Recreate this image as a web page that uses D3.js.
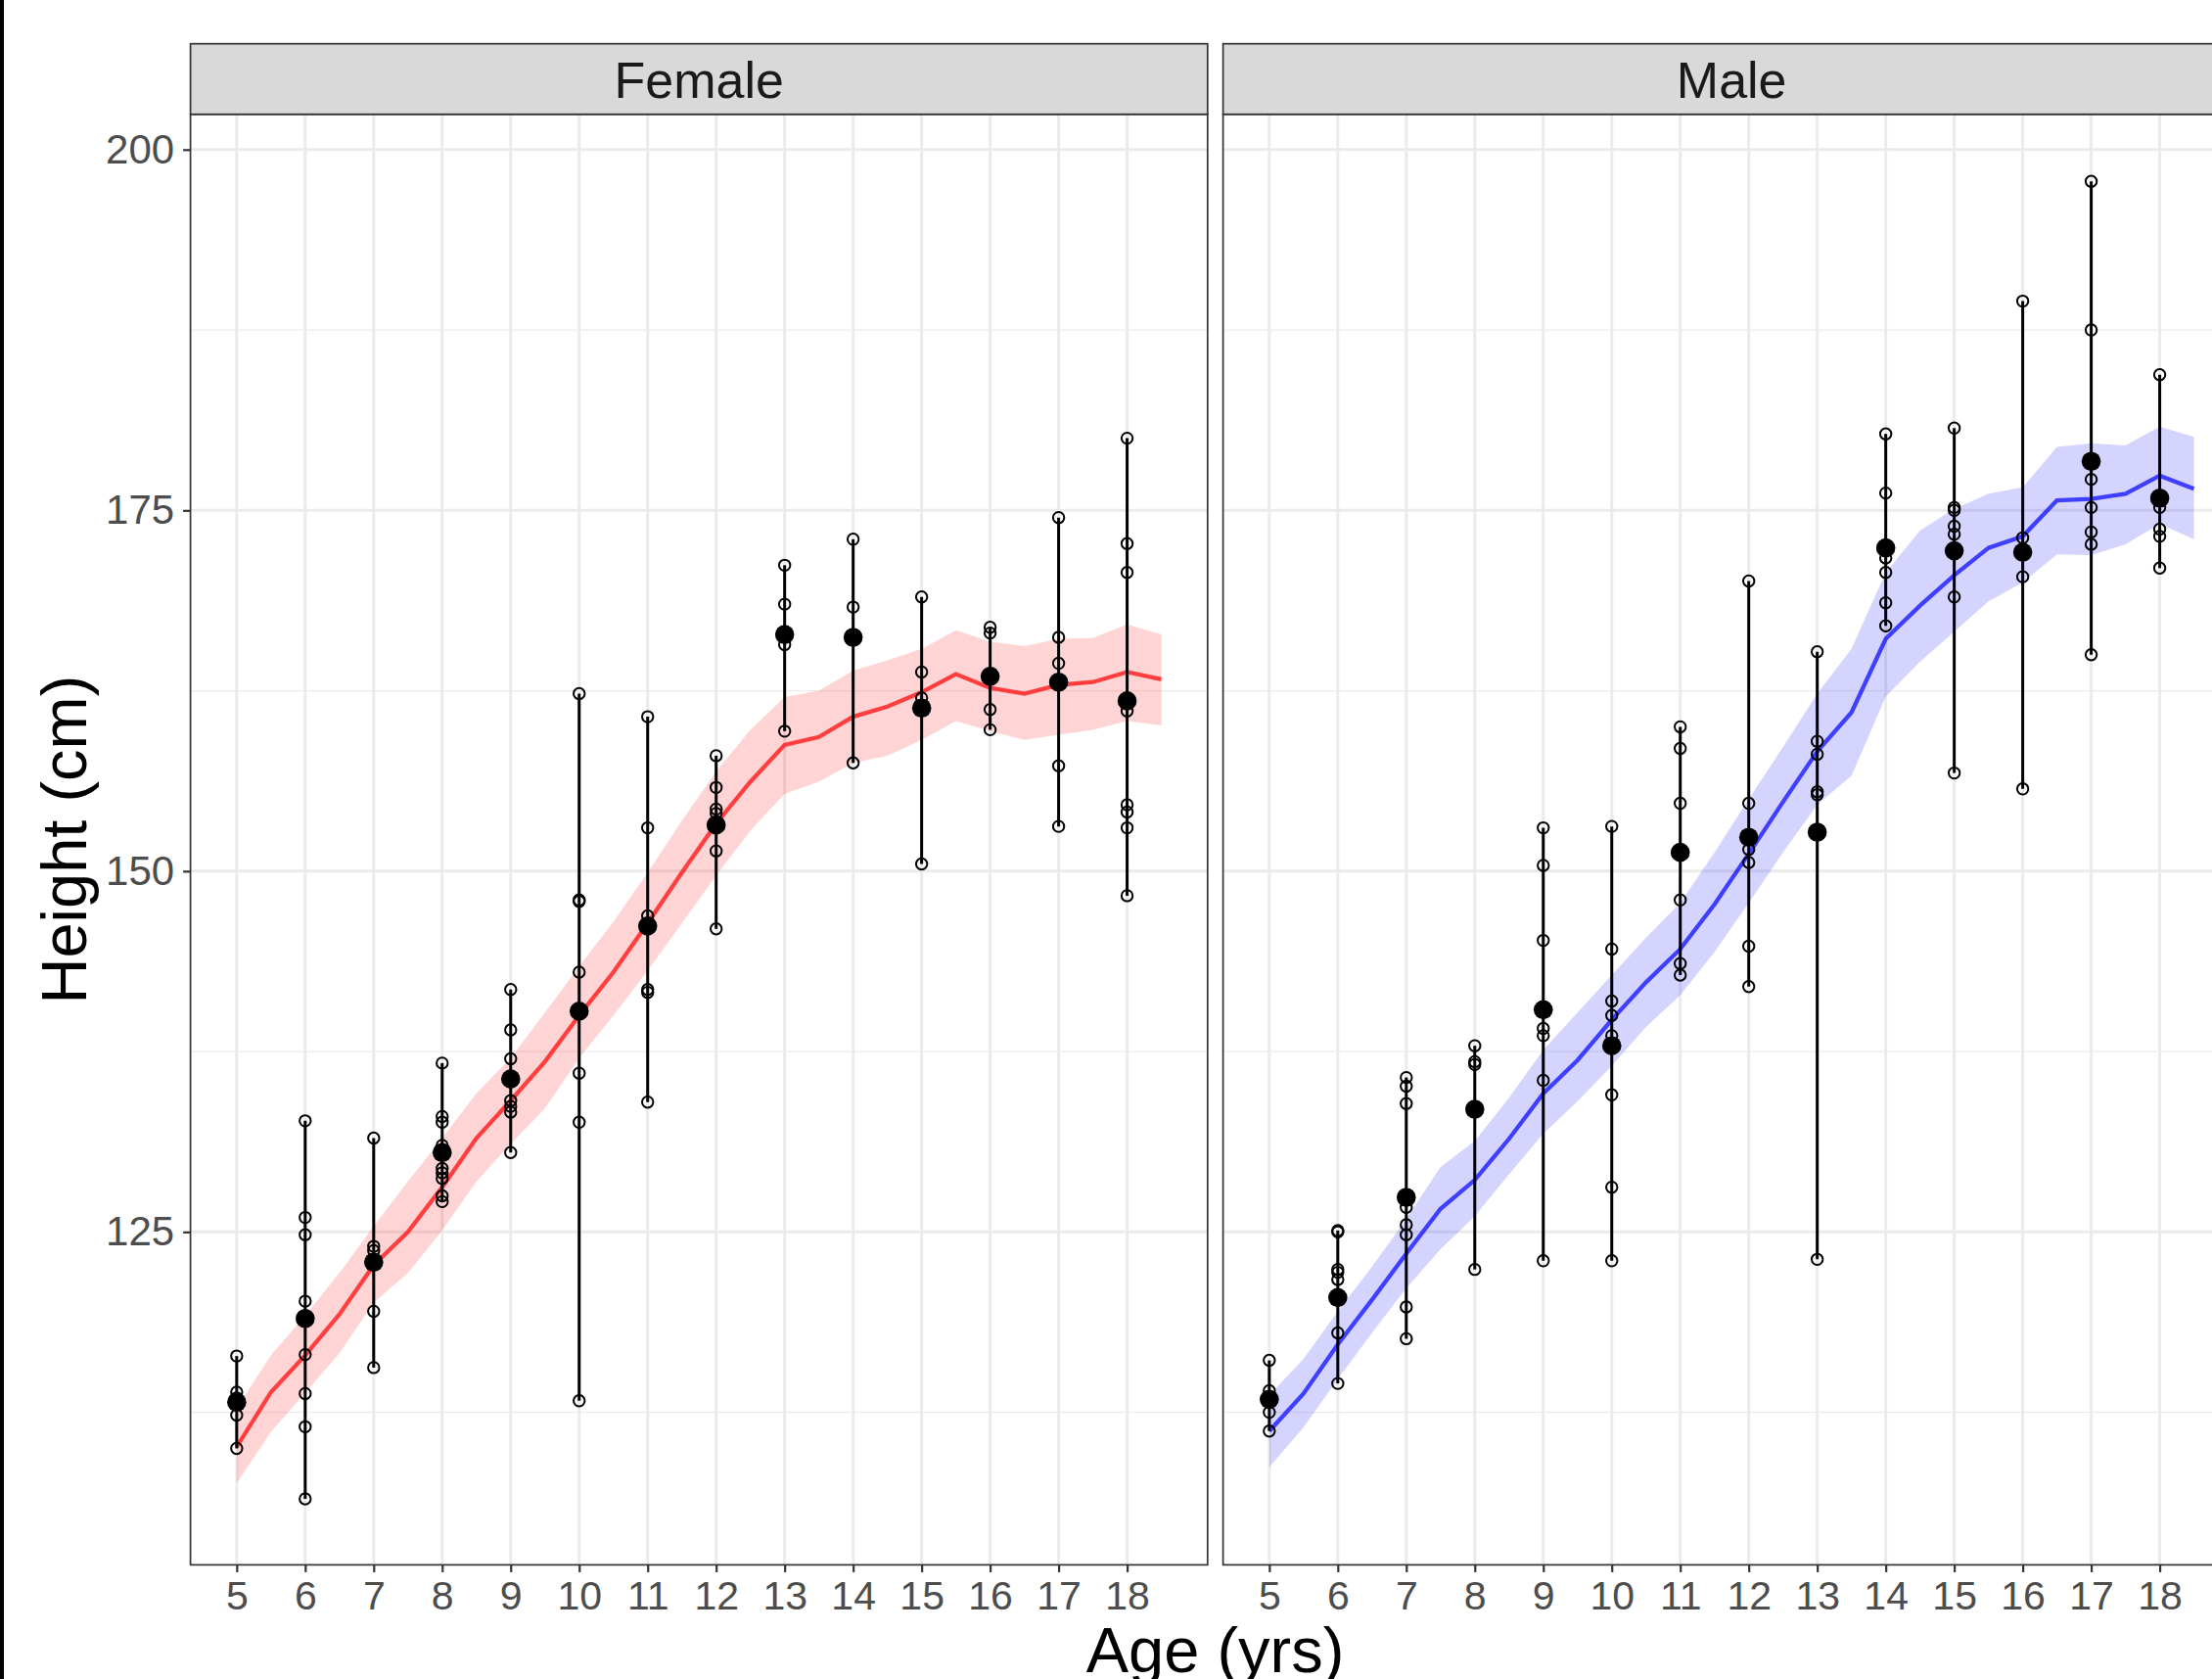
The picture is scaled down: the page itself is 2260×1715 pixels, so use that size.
<!DOCTYPE html>
<html>
<head>
<meta charset="utf-8">
<script src="https://cdn.jsdelivr.net/npm/d3@7"></script>
<style>
  body { margin: 0; background: #fff; }
  svg { display: block; font-family: "Liberation Sans", Arial, sans-serif; }
</style>
</head>
<body>
<script>

// ages with observations
const ages = [5, 6, 7, 8, 9, 10, 11, 12, 13, 14, 15, 16, 17, 18];

// individual heights (cm) per age
const femalePoints = [
  [116.4, 113.9, 113.5, 112.3, 110.0],
  [132.7, 126.0, 124.8, 120.2, 116.5, 113.8, 111.5, 106.5],
  [131.5, 124.0, 123.7, 119.5, 115.6],
  [136.7, 133.0, 132.6, 131.0, 129.4, 129.1, 128.7, 127.5, 127.1],
  [141.8, 139.0, 137.0, 134.1, 133.7, 133.3, 130.5],
  [162.3, 148.0, 147.9, 143.0, 136.0, 132.6, 113.3],
  [160.7, 153.0, 146.9, 141.8, 141.6, 134.0],
  [158.0, 155.8, 154.3, 154.0, 151.4, 146.0],
  [171.2, 168.5, 165.7, 159.7],
  [173.0, 168.3, 157.5],
  [169.0, 163.8, 162.0, 150.5],
  [166.9, 166.5, 161.2, 159.8],
  [174.5, 166.2, 164.4, 157.3, 153.1],
  [180.0, 172.7, 170.7, 161.1, 154.6, 154.1, 153.0, 148.3]
];
const femaleMeans = [113.2, 119.0, 122.9, 130.5, 135.6, 140.3, 146.2, 153.2, 166.4, 166.2, 161.3, 163.5, 163.1, 161.8];

const malePoints = [
  [116.1, 114.0, 112.5, 111.2],
  [125.1, 125.0, 122.4, 122.2, 121.7, 118.0, 114.5],
  [135.7, 135.1, 133.9, 126.7, 125.5, 124.8, 119.8, 117.6],
  [137.9, 136.8, 136.6, 122.4],
  [153.0, 150.4, 145.2, 139.1, 138.6, 135.5, 123.0],
  [153.1, 144.6, 141.0, 140.0, 138.6, 134.5, 128.1, 123.0],
  [160.0, 158.5, 154.7, 148.0, 143.6, 142.8],
  [170.1, 154.7, 151.5, 150.6, 144.8, 142.0],
  [165.2, 159.0, 158.1, 155.5, 155.3, 123.1],
  [180.3, 176.2, 171.7, 170.7, 168.6, 167.0],
  [180.7, 175.2, 175.0, 173.9, 173.35, 169.0, 156.8],
  [189.5, 173.1, 170.4, 155.7],
  [197.8, 187.5, 177.15, 175.2, 173.5, 172.65, 165.0],
  [184.4, 175.2, 173.7, 173.2, 171.0]
];
const maleMeans = [113.4, 120.45, 127.4, 133.5, 140.4, 137.9, 151.3, 152.35, 152.7, 172.4, 172.2, 172.1, 178.4, 175.85];

// smoothed fit with confidence band, every half year
const smoothAges = [5, 5.5, 6, 6.5, 7, 7.5, 8, 8.5, 9, 9.5, 10, 10.5, 11, 11.5,
                    12, 12.5, 13, 13.5, 14, 14.5, 15, 15.5, 16, 16.5, 17, 17.5, 18, 18.5];

const femaleFit   = [110.1, 113.9, 116.45, 119.3, 122.7, 125.0, 128.1, 131.5, 134.1, 136.8, 140.0, 143.0, 146.4, 149.9,
                     153.3, 156.2, 158.75, 159.3, 160.7, 161.4, 162.4, 163.65, 162.7, 162.3, 162.9, 163.1, 163.8, 163.3];
const femaleUpper = [112.8, 116.45, 119.2, 122.15, 125.4, 128.5, 131.5, 134.6, 137.05, 140.2, 143.4, 146.5, 149.9, 153.5,
                     156.9, 159.8, 162.06, 162.5, 163.9, 164.6, 165.4, 166.7, 165.9, 165.6, 166.1, 166.15, 167.1, 166.4];
const femaleLower = [107.6, 111.15, 113.85, 116.6, 120.1, 122.15, 125.1, 128.5, 131.1, 133.55, 137.05, 140.0, 143.1, 146.4,
                     149.7, 152.8, 155.36, 156.2, 157.5, 158.0, 159.1, 160.4, 159.7, 159.1, 159.45, 159.8, 160.4, 160.1];

const maleFit   = [111.2, 113.8, 117.2, 120.3, 123.5, 126.6, 128.6, 131.45, 134.6, 136.9, 139.7, 142.3, 144.6, 147.7,
                   151.2, 154.8, 158.3, 161.0, 166.1, 168.4, 170.5, 172.4, 173.2, 175.7, 175.8, 176.15, 177.4, 176.5];
const maleUpper = [113.7, 116.2, 119.5, 122.6, 125.9, 129.5, 131.3, 134.3, 137.6, 140.2, 142.8, 145.4, 147.8, 151.3,
                   155.0, 158.6, 162.3, 165.4, 170.7, 173.6, 175.1, 176.15, 176.6, 179.4, 179.65, 179.5, 180.8, 180.1];
const maleLower = [108.7, 111.45, 114.8, 118.0, 121.1, 123.8, 126.1, 129.0, 131.8, 134.05, 136.5, 139.2, 141.4, 144.4,
                   147.8, 151.3, 154.6, 156.6, 162.1, 164.5, 166.6, 168.7, 170.0, 171.95, 171.9, 172.65, 174.05, 173.0];

const panelNames = ['Female', 'Male'];
const yTicks = [125, 150, 175, 200];
const yMinor = [112.5, 137.5, 162.5, 187.5];

const width = 2260;
const height = 1715;

const panelW = 1039.2;
const panelGap = 15.8;
const plotLeft = 194.6;
const stripTop = 44.7;
const plotTop = 116.7;
const plotBottom = 1598.4;

let svg = d3.select('body').append('svg')
            .attr('width', width)
            .attr('height', height);

svg.append('rect')
    .attr('width', width)
    .attr('height', height)
    .attr('fill', '#fff');

// thin dark edge on the left of the picture
svg.append('rect')
    .attr('x', 0).attr('y', 0)
    .attr('width', 4).attr('height', height)
    .attr('fill', '#000');

const y = d3.scaleLinear()
            .domain([101.93, 202.45])
            .range([plotBottom, plotTop]);

const panels = [
  {name: panelNames[0], points: femalePoints, means: femaleMeans, fit: femaleFit, lo: femaleLower, hi: femaleUpper, color: '#ff0000'},
  {name: panelNames[1], points: malePoints, means: maleMeans, fit: maleFit, lo: maleLower, hi: maleUpper, color: '#0000ff'}
];

panels.forEach((p, i) => {
    const x0 = plotLeft + i * (panelW + panelGap);
    const x = d3.scaleLinear()
                .domain([4.325, 19.175])
                .range([x0, x0 + panelW]);

    let g = svg.append('g');

    // grid
    g.selectAll('.minor')
        .data(yMinor)
        .enter()
        .append('line')
        .attr('x1', x0).attr('x2', x0 + panelW)
        .attr('y1', d => y(d)).attr('y2', d => y(d))
        .attr('stroke', '#ebebeb')
        .attr('stroke-width', 1.3);

    g.selectAll('.major-y')
        .data(yTicks)
        .enter()
        .append('line')
        .attr('x1', x0).attr('x2', x0 + panelW)
        .attr('y1', d => y(d)).attr('y2', d => y(d))
        .attr('stroke', '#ebebeb')
        .attr('stroke-width', 3);

    g.selectAll('.major-x')
        .data(ages)
        .enter()
        .append('line')
        .attr('x1', d => x(d)).attr('x2', d => x(d))
        .attr('y1', plotTop).attr('y2', plotBottom)
        .attr('stroke', '#ebebeb')
        .attr('stroke-width', 3);

    // ribbon + smooth line
    const band = d3.area()
                   .x((d, k) => x(smoothAges[k]))
                   .y0((d, k) => y(p.lo[k]))
                   .y1((d, k) => y(p.hi[k]));
    g.append('path')
        .datum(p.fit)
        .attr('d', band)
        .attr('fill', p.color)
        .attr('fill-opacity', 0.17);

    const line = d3.line()
                   .x((d, k) => x(smoothAges[k]))
                   .y(d => y(d));
    g.append('path')
        .datum(p.fit)
        .attr('d', line)
        .attr('fill', 'none')
        .attr('stroke', p.color)
        .attr('stroke-opacity', 0.7)
        .attr('stroke-width', 4.3);

    // range bars
    g.selectAll('.range')
        .data(ages)
        .enter()
        .append('line')
        .attr('x1', d => x(d)).attr('x2', d => x(d))
        .attr('y1', (d, k) => y(d3.min(p.points[k])))
        .attr('y2', (d, k) => y(d3.max(p.points[k])))
        .attr('stroke', '#000')
        .attr('stroke-width', 3);

    // raw points
    const raw = [];
    ages.forEach((a, k) => p.points[k].forEach(v => raw.push({age: a, h: v})));
    g.selectAll('.raw')
        .data(raw)
        .enter()
        .append('circle')
        .attr('cx', d => x(d.age))
        .attr('cy', d => y(d.h))
        .attr('r', 5.7)
        .attr('fill', 'none')
        .attr('stroke', '#000')
        .attr('stroke-width', 2);

    // means
    g.selectAll('.mean')
        .data(ages)
        .enter()
        .append('circle')
        .attr('cx', d => x(d))
        .attr('cy', (d, k) => y(p.means[k]))
        .attr('r', 9.8)
        .attr('fill', '#000');

    // panel border
    g.append('rect')
        .attr('x', x0).attr('y', plotTop)
        .attr('width', panelW).attr('height', plotBottom - plotTop)
        .attr('fill', 'none')
        .attr('stroke', '#333')
        .attr('stroke-width', 1.7);

    // strip
    g.append('rect')
        .attr('x', x0).attr('y', stripTop)
        .attr('width', panelW).attr('height', plotTop - stripTop)
        .attr('fill', '#d9d9d9')
        .attr('stroke', '#333')
        .attr('stroke-width', 1.7);
    g.append('text')
        .attr('x', x0 + panelW / 2)
        .attr('y', 100)
        .attr('text-anchor', 'middle')
        .attr('font-size', 52)
        .attr('fill', '#1a1a1a')
        .text(p.name);

    // x axis
    let xAxis = svg.append('g')
        .attr('transform', `translate(0,${plotBottom})`)
        .call(d3.axisBottom(x).tickValues(ages).tickSize(7.5).tickPadding(9).tickFormat(d3.format('d')));
    xAxis.select('.domain').remove();
    xAxis.selectAll('line').attr('stroke', '#333').attr('stroke-width', 2.2);
    xAxis.selectAll('text')
        .attr('font-size', 41)
        .attr('font-family', '"Liberation Sans", Arial, sans-serif')
        .attr('fill', '#4d4d4d');

    if (i === 0) {
        let yAxis = svg.append('g')
            .attr('transform', `translate(${x0},0)`)
            .call(d3.axisLeft(y).tickValues(yTicks).tickSize(7.5).tickPadding(9));
        yAxis.select('.domain').remove();
        yAxis.selectAll('line').attr('stroke', '#333').attr('stroke-width', 2.2);
        yAxis.selectAll('text')
            .attr('font-size', 42)
            .attr('font-family', '"Liberation Sans", Arial, sans-serif')
            .attr('fill', '#4d4d4d');
    }
});

// axis titles (the reference crops the descenders at the bottom edge)
svg.append('text')
    .attr('x', 1241.6)
    .attr('y', 1708)
    .attr('text-anchor', 'middle')
    .attr('font-size', 65)
    .attr('fill', '#000')
    .text('Age (yrs)');

svg.append('text')
    .attr('transform', `translate(88,${(plotTop + plotBottom) / 2}) rotate(-90)`)
    .attr('text-anchor', 'middle')
    .attr('font-size', 65)
    .attr('fill', '#000')
    .text('Height (cm)');

</script>
</body>
</html>
